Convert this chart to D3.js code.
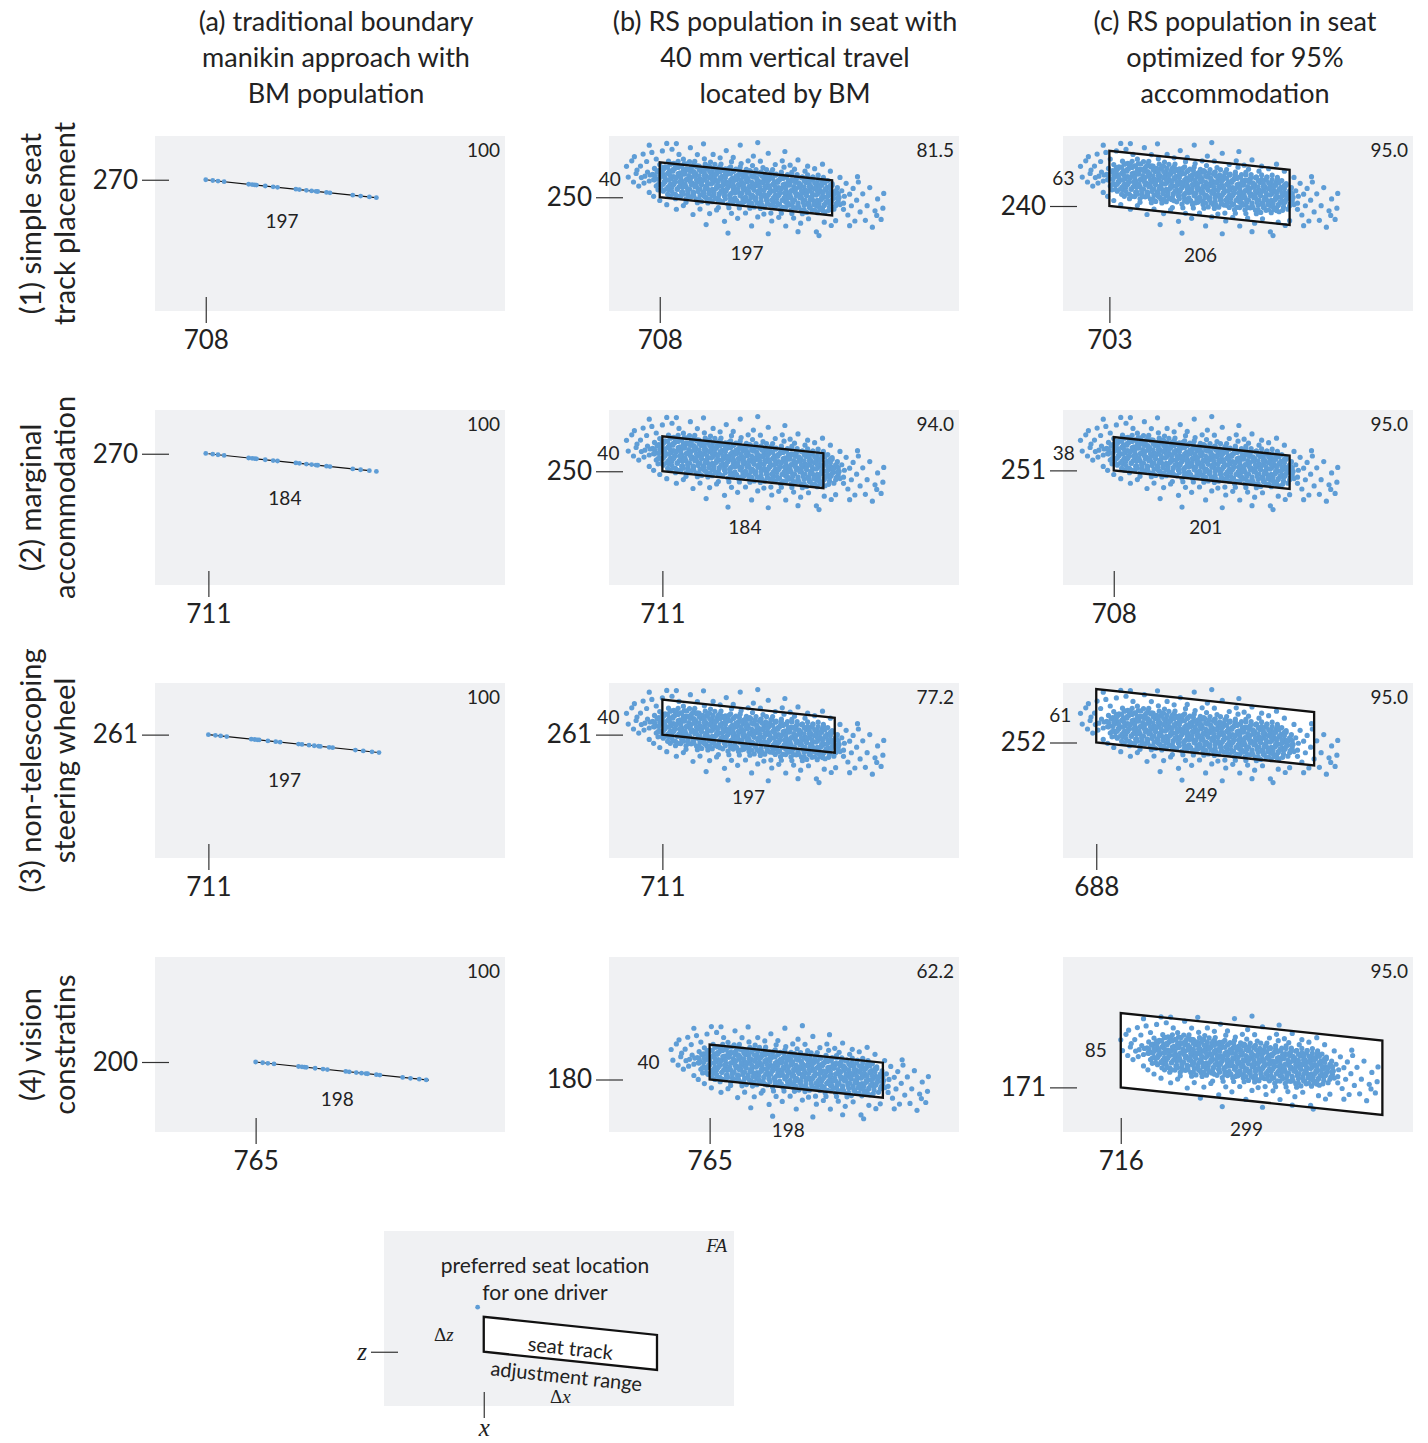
<!DOCTYPE html>
<html>
<head>
<meta charset="utf-8">
<script src="https://cdn.jsdelivr.net/npm/d3@7"></script>
<style>
  body { margin: 0; background: #fff; }
  svg { display: block; font-family: Lato, "Open Sans", sans-serif; }
</style>
</head>
<body>
<script>
// ---- data ----
const colTitles = [
  ["(a) traditional boundary", "manikin approach with", "BM population"],
  ["(b) RS population in seat with", "40 mm vertical travel", "located by BM"],
  ["(c) RS population in seat", "optimized for 95%", "accommodation"]
];
const rowTitles = [
  ["(1) simple seat", "track placement"],
  ["(2) marginal", "accommodation"],
  ["(3) non-telescoping", "steering wheel"],
  ["(4) vision", "constratins"]
];

// seat track: fore-aft position, height, fore-aft travel, vertical travel (mm) [row][col]
const trackX = [[708, 708, 703], [711, 711, 708], [711, 711, 688], [765, 765, 716]];
const trackZ = [[270, 250, 240], [270, 250, 251], [261, 261, 252], [200, 180, 171]];
const travelX = [[197, 197, 206], [184, 184, 201], [197, 197, 249], [198, 198, 299]];
const travelZ = [[0, 40, 63], [0, 40, 38], [0, 40, 61], [0, 40, 85]];
const accommodated = [["100", "81.5", "95.0"], ["100", "94.0", "95.0"], ["100", "77.2", "95.0"], ["100", "62.2", "95.0"]];
const trackAngle = 6; // degrees, track slope

// boundary manikins: start position per row and offsets along the track (mm)
const bmStartX = [708, 708, 711, 765];
const bmOffsets = [0, 8, 14, 21, 49, 53, 56, 58, 68, 77, 82, 103, 107, 115, 121, 126, 128, 138, 142, 168, 177, 187, 195];

// RS population centre per row for columns b and c (x, z in mm)
const rsCenter = [[[806, 262], [806, 262]], [[806, 262], [806, 262]], [[806, 262], [806, 262]], [[857, 191], [852, 202]]];

// RS population preferred seat locations: [fore-aft offset, height offset above track line] (mm)
const rsCloud = [
  [-71,24],[-58,23],[-47,27],[-40,24],[-28,23],[-16,27],[-5,26],[8,25],[20,24],[31,23],[44,27],[56,26],[68,25],
  [-88,20],[-82,18],[-77,21],[-70,19],[-64,22],[-59,20],[-53,18],[-46,21],[-41,19],[-35,22],[-29,20],[-23,18],[-17,21],[-11,19],[-6,22],[1,20],
  [6,18],[12,21],[18,19],[24,22],[30,20],[35,18],[41,21],[48,19],[53,22],[59,20],[65,18],[71,21],[77,19],[83,22],[89,20],
  [-98,15],[-92,13],[-86,17],[-80,14],[-74,16],[-68,13],[-62,15],[-56,17],[-50,14],[-44,16],[-38,13],[-32,15],[-26,17],[-20,14],[-14,16],[-8,13],[-2,15],
  [4,17],[10,14],[16,16],[22,13],[28,15],[34,17],[40,14],[46,16],[52,13],[58,15],[64,17],[70,14],[76,16],[82,13],[88,15],[94,17],[99,14],
  [-104,10],[-99,8],[-93,11],[-87,9],[-81,12],[-75,8],[-69,10],[-63,11],[-57,9],[-51,12],[-45,8],[-39,10],[-33,11],[-27,9],[-21,12],[-15,8],[-9,10],[-3,11],
  [3,9],[9,12],[15,8],[21,10],[27,11],[33,9],[39,12],[45,8],[51,10],[57,11],[63,9],[69,12],[75,8],[81,10],[87,11],[93,9],[99,12],[105,10],
  [-112,5],[-106,3],[-100,7],[-94,4],[-88,6],[-82,3],[-76,5],[-70,7],[-64,4],[-58,6],[-52,3],[-46,5],[-40,7],[-34,4],[-28,6],[-22,3],[-16,5],[-10,7],[-4,4],
  [2,6],[8,3],[14,5],[20,7],[26,4],[32,6],[38,3],[44,5],[50,7],[56,4],[62,6],[68,3],[74,5],[80,7],[86,4],[92,6],[98,3],[104,5],[110,7],
  [-115,0],[-109,2],[-103,-1],[-97,1],[-91,-2],[-85,0],[-79,2],[-73,-1],[-67,1],[-61,-2],[-55,0],[-49,2],[-43,-1],[-37,1],[-31,-2],[-25,0],[-19,2],[-13,-1],[-7,1],[-1,-2],
  [5,0],[11,2],[17,-1],[23,1],[29,-2],[35,0],[41,2],[47,-1],[53,1],[59,-2],[65,0],[71,2],[77,-1],[83,1],[89,-2],[95,0],[101,2],[107,-1],[113,1],
  [-110,-5],[-104,-3],[-98,-7],[-92,-4],[-86,-6],[-80,-3],[-74,-5],[-68,-7],[-62,-4],[-56,-6],[-50,-3],[-44,-5],[-38,-7],[-32,-4],[-26,-6],[-20,-3],[-14,-5],[-8,-7],[-2,-4],
  [4,-6],[10,-3],[16,-5],[22,-7],[28,-4],[34,-6],[40,-3],[46,-5],[52,-7],[58,-4],[64,-6],[70,-3],[76,-5],[82,-7],[88,-4],[94,-6],[100,-3],[106,-5],[112,-7],
  [-102,-10],[-96,-8],[-90,-12],[-84,-9],[-78,-11],[-72,-8],[-66,-10],[-60,-12],[-54,-9],[-48,-11],[-42,-8],[-36,-10],[-30,-12],[-24,-9],[-18,-11],[-12,-8],[-6,-10],[0,-12],
  [6,-9],[12,-11],[18,-8],[24,-10],[30,-12],[36,-9],[42,-11],[48,-8],[54,-10],[60,-12],[66,-9],[72,-11],[78,-8],[84,-10],[90,-12],[96,-9],[103,-11],[108,-9],
  [-100,-14],[-94,-15],[-87,-13],[-80,-17],[-73,-14],[-66,-16],[-59,-13],[-52,-15],[-45,-17],[-38,-14],[-31,-16],[-24,-13],[-17,-15],[-10,-17],[-3,-14],
  [4,-16],[11,-13],[18,-15],[25,-17],[32,-14],[39,-16],[46,-13],[53,-15],[60,-17],[67,-14],[74,-16],[81,-13],[88,-15],[95,-17],[101,-15],
  [-86,-20],[-80,-22],[-74,-19],[-68,-21],[-62,-18],[-56,-20],[-50,-22],[-44,-19],[-38,-21],[-32,-18],[-26,-20],[-20,-22],[-14,-19],[-8,-21],[-2,-18],
  [4,-20],[10,-22],[16,-19],[22,-21],[28,-18],[34,-20],[40,-22],[46,-19],[52,-21],[58,-18],[64,-20],[70,-22],[76,-19],[82,-21],[88,-18],
  [-68,-25],[-55,-24],[-43,-23],[-31,-27],[-19,-26],[-7,-25],[5,-24],[17,-23],[29,-27],[41,-26],[53,-25],[65,-24],
  // dense core
  [-85,17],[-79,18],[-73,16],[-67,19],[-61,17],[-55,18],[-49,16],[-43,19],[-37,17],[-31,18],[-25,16],[-19,19],[-13,17],[-7,18],[-1,16],
  [5,19],[11,17],[17,18],[23,16],[29,19],[35,17],[41,18],[47,16],[53,19],[59,17],[65,18],[71,16],[77,19],[83,17],[89,18],
  [-95,12],[-89,13],[-83,11],[-77,14],[-71,12],[-65,13],[-59,11],[-53,14],[-47,12],[-41,13],[-35,11],[-29,14],[-23,12],[-17,13],[-11,11],[-5,14],
  [1,12],[7,13],[13,11],[19,14],[25,12],[31,13],[37,11],[43,14],[49,12],[55,13],[61,11],[67,14],[73,12],[79,13],[85,11],[91,14],[97,12],
  [-101,7],[-95,8],[-89,6],[-83,9],[-77,7],[-71,8],[-65,6],[-59,9],[-53,7],[-47,8],[-41,6],[-35,9],[-29,7],[-23,8],[-17,6],[-11,9],[-5,7],
  [1,8],[7,6],[13,9],[19,7],[25,8],[31,6],[37,9],[43,7],[49,8],[55,6],[61,9],[67,7],[73,8],[79,6],[85,9],[91,7],[97,8],[103,6],
  [-104,2],[-98,3],[-92,1],[-86,4],[-80,2],[-74,3],[-68,1],[-62,4],[-56,2],[-50,3],[-44,1],[-38,4],[-32,2],[-26,3],[-20,1],[-14,4],[-8,2],[-2,3],
  [4,1],[10,4],[16,2],[22,3],[28,1],[34,4],[40,2],[46,3],[52,1],[58,4],[64,2],[70,3],[76,1],[82,4],[88,2],[94,3],[100,1],[106,3],
  [-105,-3],[-99,-2],[-93,-4],[-87,-1],[-81,-3],[-75,-2],[-69,-4],[-63,-1],[-57,-3],[-51,-2],[-45,-4],[-39,-1],[-33,-3],[-27,-2],[-21,-4],[-15,-1],[-9,-3],[-3,-2],
  [3,-4],[9,-1],[15,-3],[21,-2],[27,-4],[33,-1],[39,-3],[45,-2],[51,-4],[57,-1],[63,-3],[69,-2],[75,-4],[81,-1],[87,-3],[93,-2],[99,-4],[105,-2],
  [-100,-8],[-94,-7],[-88,-9],[-82,-6],[-76,-8],[-70,-7],[-64,-9],[-58,-6],[-52,-8],[-46,-7],[-40,-9],[-34,-6],[-28,-8],[-22,-7],[-16,-9],[-10,-6],[-4,-8],
  [2,-7],[8,-9],[14,-6],[20,-8],[26,-7],[32,-9],[38,-6],[44,-8],[50,-7],[56,-9],[62,-6],[68,-8],[74,-7],[80,-9],[86,-6],[92,-8],[98,-7],[104,-8],
  [-96,-13],[-90,-12],[-84,-14],[-78,-11],[-72,-13],[-66,-12],[-60,-14],[-54,-11],[-48,-13],[-42,-12],[-36,-14],[-30,-11],[-24,-13],[-18,-12],[-12,-14],[-6,-11],
  [0,-13],[6,-12],[12,-14],[18,-11],[24,-13],[30,-12],[36,-14],[42,-11],[48,-13],[54,-12],[60,-14],[66,-11],[72,-13],[78,-12],[84,-14],[90,-11],[96,-13],
  [-89,-18],[-83,-17],[-77,-19],[-71,-16],[-65,-18],[-59,-17],[-53,-19],[-47,-16],[-41,-18],[-35,-17],[-29,-19],[-23,-16],[-17,-18],[-11,-17],[-5,-19],
  [1,-16],[7,-18],[13,-17],[19,-19],[25,-16],[31,-18],[37,-17],[43,-19],[49,-16],[55,-18],[61,-17],[67,-19],[73,-16],[79,-18],[85,-17],[91,-19],
  // outskirts
  [-136,9],[-130,16],[-134,-3],[-127,21],[-125,2],[-122,-12],[-120,11],[-117,25],[-116,-8],[-113,17],[-110,-18],[-107,28],[-105,-22],[-102,21],[-124,6],[-128,-8],[-119,-2],
  [108,22],[112,-14],[115,16],[117,-20],[119,4],[121,-9],[123,11],[125,-26],[127,-2],[129,19],[131,-15],[134,6],[137,-24],[139,-7],[142,14],[145,-31],[148,-12],
  [151,2],[155,-21],[157,-8],[158,9],[119,-32],[128,25],[150,-17],
  [-95,31],[-84,34],[-76,29],[-63,38],[-55,31],[-48,44],[-37,33],[-29,30],[-22,39],[-14,32],[-6,47],[3,30],[9,36],[17,31],[26,41],[34,29],[42,34],[51,30],
  [60,37],[71,31],[79,29],[88,35],[97,28],[-79,41],[14,52],[-90,40],[45,45],[-110,36],
  [-90,-30],[-79,-34],[-71,-29],[-60,-38],[-52,-31],[-41,-35],[-33,-30],[-24,-42],[-16,-32],[-9,-37],[0,-30],[7,-44],[14,-33],[21,-29],[30,-36],[38,-31],
  [46,-40],[55,-30],[63,-35],[72,-29],[81,-43],[90,-31],[98,-34],[-45,-48],[26,-51],[84,-47],[-98,-26],[103,-28],[-20,-55],[60,-45]
];

// explanation panel
const legendTrack = {x: 764, z: 182, dx: 198, dz: 40};
const legendDriver = [757, 233];

// ---- layout ----
const viewX = [650, 1050], viewZ = [120, 320];
const panelW = 350, panelH = 175;
const colLeft = [155, 609, 1063];
const rowTop = [136, 410, 683, 957];
const titleX = [336, 785, 1235];
const xLabelDy = [[33, 47, 40], [36, 48, 48], [37, 54, 41], [28, 42, 28]];
const xLabelDx = [[-10, 1, 1], [-4, 2, 4], [-10, 0, -4], [-5, -8, -5]];
const zLabelDx = [[0, 50, 46], [0, 54, 50], [0, 54, 36], [0, 61, 25]];
const bg = "#f0f1f3", dotColor = "#5e9dd6", ink = "#222";
const serif = "'Liberation Serif', 'DejaVu Serif', serif";

const svg = d3.select("body").append("svg").attr("width", 1428).attr("height", 1443);
const tilt = Math.tan(trackAngle * Math.PI / 180);

function corners(x0, z0, dx, dz) {
  return [[x0, z0], [x0, z0 + dz], [x0 + dx, z0 + dz - tilt * dx], [x0 + dx, z0 - tilt * dx]];
}

function drawPanel(left, top, o) {
  const g = svg.append("g").attr("transform", `translate(${left},${top})`);
  const x = d3.scaleLinear().domain(viewX).range([0, panelW]);
  const z = d3.scaleLinear().domain(viewZ).range([panelH, 0]);
  g.append("rect").attr("width", panelW).attr("height", panelH).attr("fill", bg);

  const line = d3.line().x(d => x(d[0])).y(d => z(d[1]));
  const pts = corners(o.x0, o.z0, o.dx, o.dz);

  // axes: a single tick at the track's reference corner
  const fs = o.axisSize || 26;
  const za = g.append("g").attr("transform", "translate(14,0)")
    .call(d3.axisLeft(z).tickValues([o.z0]).tickSize(27).tickPadding(4).tickFormat(() => o.zText));
  const xa = g.append("g").attr("transform", `translate(0,${panelH - 14})`)
    .call(d3.axisBottom(x).tickValues([o.x0]).tickSize(26).tickPadding(o.xPad || 7.5).tickFormat(() => o.xText));
  [za, xa].forEach(a => {
    a.select(".domain").remove();
    a.attr("font-family", o.axisFont || null).attr("font-size", fs)
      .attr("font-style", o.axisFont ? "italic" : null);
    a.selectAll("line").attr("stroke", "#333").attr("stroke-width", 1.2);
    a.selectAll("text").attr("fill", ink);
  });

  if (o.dz > 0) {
    g.append("path").attr("d", line(pts) + "Z").attr("fill", "#fff");
  } else {
    g.append("path").attr("d", line([pts[0], pts[3]])).attr("fill", "none")
      .attr("stroke", "#111").attr("stroke-width", 1.2);
  }
  g.selectAll("circle.pt").data(o.points).join("circle").attr("class", "pt")
    .attr("cx", d => x(d[0])).attr("cy", d => z(d[1])).attr("r", o.dotR || 2.6).attr("fill", dotColor);
  if (o.dz > 0) {
    g.append("path").attr("d", line(pts) + "Z").attr("fill", "none")
      .attr("stroke", "#111").attr("stroke-width", 2.3).attr("stroke-linejoin", "miter");
  }

  // accommodation percentage
  g.append("text").attr("x", panelW - 5).attr("y", 21).attr("text-anchor", "end")
    .attr("font-size", 19).attr("fill", ink)
    .attr("font-family", o.pctFont || null).attr("font-style", o.pctFont ? "italic" : null)
    .text(o.pct);

  // travel labels
  const midX = o.x0 + o.dx / 2;
  const bottomMid = o.z0 - tilt * o.dx / 2;
  const tx = g.append("text").attr("x", x(midX) + o.xLabDx).attr("y", z(bottomMid) + o.xLabDy)
    .attr("dy", "0.35em").attr("text-anchor", "middle").attr("font-size", 19).attr("fill", ink);
  if (o.travelFont) {
    tx.append("tspan").attr("font-family", serif).text("Δ");
    tx.append("tspan").attr("font-family", serif).attr("font-style", "italic").text(o.xTravelText);
  } else tx.text(o.xTravelText);
  if (o.dz > 0) {
    const tz = g.append("text").attr("x", x(o.x0) - o.zLabDx).attr("y", z(o.z0 + o.dz / 2))
      .attr("dy", "0.35em").attr("text-anchor", "middle").attr("font-size", 19).attr("fill", ink);
    if (o.travelFont) {
      tz.append("tspan").attr("font-family", serif).text("Δ");
      tz.append("tspan").attr("font-family", serif).attr("font-style", "italic").text(o.zTravelText);
    } else tz.text(o.zTravelText);
  }
  return {g, x, z};
}

// column titles
colTitles.forEach((lines, c) => {
  const t = svg.append("text").attr("text-anchor", "middle").attr("font-size", 27).attr("fill", ink);
  lines.forEach((s, i) => t.append("tspan").attr("x", titleX[c]).attr("y", 31 + i * 36).text(s));
});

// row titles
rowTitles.forEach((lines, r) => {
  const cy = rowTop[r] + panelH / 2;
  lines.forEach((s, i) => {
    const bx = 41 + i * 34;
    svg.append("text").attr("transform", `translate(${bx},${cy}) rotate(-90)`)
      .attr("text-anchor", "middle").attr("font-size", 29).attr("fill", ink).text(s);
  });
});

// panels
for (let r = 0; r < 4; r++) {
  for (let c = 0; c < 3; c++) {
    let points;
    if (c === 0) {
      const x0 = trackX[r][0], z0 = trackZ[r][0];
      points = bmOffsets.map(d => {
        const px = bmStartX[r] + d;
        return [px, z0 - tilt * (px - x0)];
      });
    } else {
      const [cx, cz] = rsCenter[r][c - 1];
      points = rsCloud.map(d => [cx + d[0], cz + d[1] - tilt * d[0]]);
    }
    drawPanel(colLeft[c], rowTop[r], {
      x0: trackX[r][c], z0: trackZ[r][c], dx: travelX[r][c], dz: travelZ[r][c],
      xText: String(trackX[r][c]), zText: String(trackZ[r][c]),
      pct: accommodated[r][c], points: points, dotR: c === 0 ? 2.4 : 2.6,
      xTravelText: String(travelX[r][c]), zTravelText: String(travelZ[r][c]),
      xLabDx: xLabelDx[r][c], xLabDy: xLabelDy[r][c], zLabDx: zLabelDx[r][c]
    });
  }
}

// explanation panel
const leg = drawPanel(384, 1231, {
  x0: legendTrack.x, z0: legendTrack.z, dx: legendTrack.dx, dz: legendTrack.dz,
  xText: "x", zText: "z", axisFont: serif, axisSize: 25, xPad: 0.5,
  pct: "FA", pctFont: serif, points: [legendDriver], dotR: 2.4,
  xTravelText: "x", zTravelText: "z", travelFont: true,
  xLabDx: -10, xLabDy: 35, zLabDx: 40
});
leg.g.selectAll("text").filter(function () { return this.textContent === "FA"; }).attr("x", 343);
const lg = leg.g;
const lx = leg.x, lz = leg.z;
const note = lg.append("text").attr("text-anchor", "middle").attr("font-size", 21).attr("fill", ink);
note.append("tspan").attr("x", 161).attr("y", 42).text("preferred seat location");
note.append("tspan").attr("x", 161).attr("y", 69).text("for one driver");
const cxT = lx(legendTrack.x + legendTrack.dx / 2);
const cyT = lz(legendTrack.z + legendTrack.dz / 2 - tilt * legendTrack.dx / 2);
lg.append("text").attr("transform", `translate(${cxT},${cyT + 5}) rotate(${trackAngle})`)
  .attr("text-anchor", "middle").attr("dy", "0.35em").attr("font-size", 20).attr("fill", ink).text("seat track");
lg.append("text").attr("transform", `translate(${cxT - 4},${cyT + 33}) rotate(${trackAngle})`)
  .attr("text-anchor", "middle").attr("dy", "0.35em").attr("font-size", 20).attr("fill", ink).text("adjustment range");
</script>
</body>
</html>
